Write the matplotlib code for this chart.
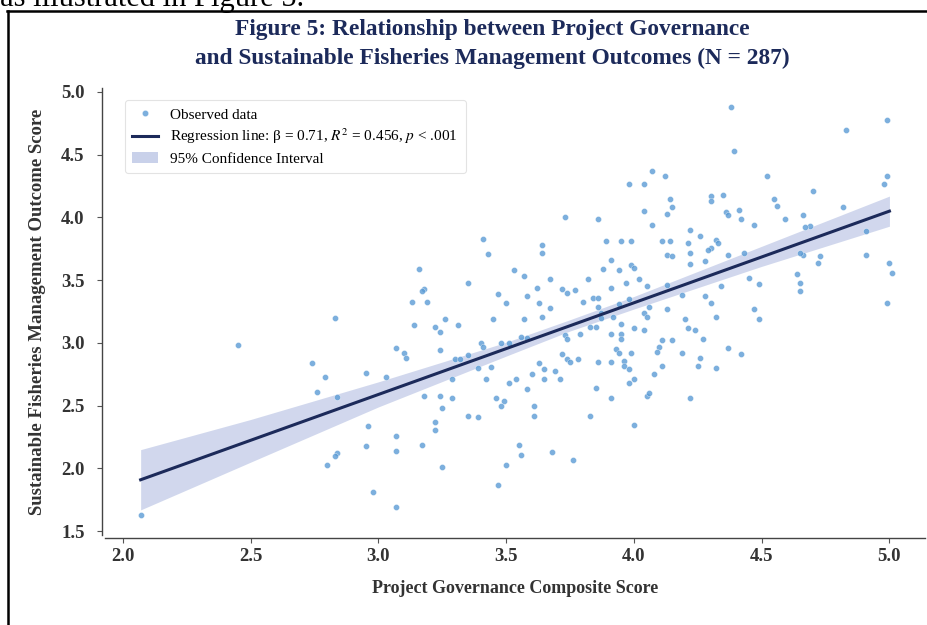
import matplotlib
matplotlib.use("Agg")
import matplotlib.pyplot as plt
from matplotlib.lines import Line2D
from matplotlib.patches import Patch

plt.rcParams['font.family'] = 'serif'
plt.rcParams['font.serif'] = ['Liberation Serif', 'DejaVu Serif']
plt.rcParams['mathtext.fontset'] = 'stix'

gov = [2.07, 2.45, 2.83, 2.74, 2.79, 2.76, 2.84, 2.95, 3.03, 3.07, 2.96, 3.07, 2.95, 3.07,
       2.84, 2.83, 2.80, 2.98, 3.07, 3.47,
       3.98, 4.04, 4.04, 3.73, 3.86, 3.41, 3.64, 3.64, 3.89, 3.95, 3.99, 3.43, 3.91, 3.16,
       3.53, 3.88, 3.94, 3.99, 4.00, 3.57, 3.67, 3.35, 3.82, 4.02, 3.97, 3.18, 3.17, 3.47,
       3.62, 3.58, 3.72, 3.74, 3.77, 3.91, 4.05, 3.13, 3.19, 3.50, 3.63, 3.67, 3.80, 3.84,
       3.86, 3.86, 3.94, 3.98, 3.45, 3.57, 3.64, 3.87, 3.92, 4.04, 4.05, 3.14, 3.22, 3.24,
       3.31, 3.26, 3.87, 3.83, 3.85, 3.95, 3.91, 3.95, 4.04, 4.00, 3.10, 3.11, 3.24, 3.40,
       3.41, 3.51, 3.48, 3.56, 3.58, 3.73, 3.74, 3.79, 3.95, 3.93, 3.94, 3.96, 3.99, 3.30,
       3.35, 3.32, 3.39, 3.44, 3.42, 3.51, 3.54, 3.60, 3.63, 3.65, 3.65, 3.69, 3.72, 3.74,
       3.75, 3.78, 3.71, 3.86, 3.91, 3.96, 3.98, 4.00, 3.98, 3.29, 3.18, 3.24, 3.29, 3.25,
       3.58, 3.46, 3.49, 3.48, 3.61, 3.61, 3.85, 3.91, 4.05, 4.06, 4.22, 3.35, 3.39, 3.83,
       4.00, 3.22, 3.22, 3.17, 3.55, 3.56, 3.68, 3.76, 3.25, 3.50,
       4.38, 4.99, 4.83, 4.39, 4.07, 4.12, 4.52, 4.99, 4.98, 4.70, 4.14, 4.15, 4.13, 4.30,
       4.30, 4.35, 4.55, 4.56, 4.82, 4.07, 4.36, 4.37, 4.41, 4.42, 4.47, 4.59, 4.66, 4.69,
       4.67, 4.22, 4.26, 4.11, 4.14, 4.21, 4.32, 4.33, 4.30, 4.29, 4.13, 4.15, 4.22, 4.37,
       4.43, 4.22, 4.28, 4.66, 4.65, 4.73, 4.72, 4.91, 4.91, 5.00, 5.01, 4.64, 4.65, 4.65,
       4.45, 4.49, 4.34, 4.13, 4.19, 4.28, 4.30, 4.06, 4.13, 4.32, 4.47, 4.49, 4.99, 4.20,
       4.21, 4.24, 4.27, 4.15, 4.11, 4.10, 4.09, 4.19, 4.37, 4.42, 4.26, 4.11, 4.25, 4.32,
       4.08]
outcome = [1.63, 2.98, 3.20, 2.84, 2.73, 2.61, 2.57, 2.76, 2.73, 2.96, 2.34, 2.26, 2.18, 2.14,
           2.12, 2.10, 2.03, 1.81, 1.69, 1.87,
           4.27, 4.27, 4.05, 4.00, 3.99, 3.83, 3.78, 3.72, 3.81, 3.81, 3.81, 3.71, 3.66, 3.59,
           3.58, 3.59, 3.58, 3.62, 3.60, 3.53, 3.51, 3.48, 3.51, 3.51, 3.48, 3.43, 3.41, 3.39,
           3.44, 3.37, 3.43, 3.40, 3.42, 3.44, 3.45, 3.33, 3.33, 3.32, 3.32, 3.28, 3.33, 3.36,
           3.36, 3.29, 3.31, 3.35, 3.19, 3.19, 3.21, 3.24, 3.21, 3.24, 3.21, 3.14, 3.13, 3.09,
           3.14, 3.19, 3.20, 3.13, 3.13, 3.15, 3.07, 3.07, 3.10, 3.12, 2.92, 2.88, 2.94, 3.00,
           2.97, 3.00, 3.00, 3.05, 3.04, 3.06, 3.03, 3.07, 3.03, 2.95, 2.92, 2.86, 2.92, 2.87,
           2.90, 2.87, 2.80, 2.81, 2.71, 2.68, 2.71, 2.75, 2.84, 2.79, 2.71, 2.78, 2.91, 2.87,
           2.85, 2.87, 2.71, 2.85, 2.85, 2.82, 2.79, 2.71, 2.68, 2.71, 2.58, 2.58, 2.56, 2.48,
           2.63, 2.56, 2.54, 2.50, 2.50, 2.42, 2.64, 2.56, 2.58, 2.60, 2.56, 2.42, 2.41, 2.42,
           2.35, 2.37, 2.31, 2.19, 2.19, 2.11, 2.13, 2.07, 2.01, 2.03,
           4.88, 4.78, 4.70, 4.53, 4.37, 4.33, 4.33, 4.33, 4.27, 4.21, 4.15, 4.08, 4.03, 4.17,
           4.13, 4.18, 4.15, 4.09, 4.08, 3.94, 4.04, 4.02, 4.06, 3.99, 3.94, 3.99, 4.02, 3.93,
           3.92, 3.90, 3.85, 3.81, 3.81, 3.80, 3.82, 3.80, 3.76, 3.74, 3.70, 3.69, 3.72, 3.70,
           3.72, 3.63, 3.65, 3.70, 3.72, 3.69, 3.64, 3.89, 3.70, 3.64, 3.56, 3.55, 3.48, 3.41,
           3.52, 3.47, 3.45, 3.46, 3.38, 3.37, 3.32, 3.29, 3.27, 3.21, 3.27, 3.19, 3.32, 3.19,
           3.12, 3.10, 3.03, 3.02, 3.02, 2.97, 2.93, 2.92, 2.96, 2.91, 2.88, 2.82, 2.82, 2.80,
           2.75]

# fitted line and 95% band
fit_x = [2.07, 5.00]
fit_y = [1.91, 4.05]
band_x = [2.07, 2.50, 3.00, 3.50, 3.75, 4.00, 4.50, 5.00]
band_lo = [1.67, 2.05, 2.49, 2.895, 3.095, 3.27, 3.61, 3.93]
band_hi = [2.15, 2.39, 2.69, 3.005, 3.185, 3.37, 3.77, 4.17]

navy = '#1c2a5a'
dot = '#5b9bd5'
band = '#c9d1ea'

fig = plt.figure(figsize=(9.28, 6.25), dpi=100)
ax = fig.add_axes([0.113, 0.144, 0.884, 0.715])

ax.fill_between(band_x, band_lo, band_hi, color=band, alpha=0.85, lw=0, zorder=1)
ax.scatter(gov, outcome, s=19, color=dot, alpha=0.8, edgecolors='white', linewidths=0.3, zorder=2)
ax.plot(fit_x, fit_y, color=navy, lw=2.2, zorder=3)

ax.set_xlim(1.93, 5.14)
ax.set_ylim(1.47, 5.03)
ax.set_xticks([2.0, 2.5, 3.0, 3.5, 4.0, 4.5, 5.0])
ax.set_yticks([1.5, 2.0, 2.5, 3.0, 3.5, 4.0, 4.5, 5.0])
for s in ['top', 'right']:
    ax.spines[s].set_visible(False)
for s in ['left', 'bottom']:
    ax.spines[s].set_position(('outward', 2))
    ax.spines[s].set_color('#444444')
    ax.spines[s].set_linewidth(1.0)
ax.tick_params(length=3.5, width=0.8, color='#555555', labelsize=13.5, labelcolor='#333333')
ax.tick_params(axis='x', pad=4)
ax.tick_params(axis='y', pad=9)
for lab in ax.get_xticklabels() + ax.get_yticklabels():
    lab.set_fontweight('bold')

ax.set_xlabel('Project Governance Composite Score', fontsize=13, fontweight='bold',
              color='#333333', labelpad=11)
ax.set_ylabel('Sustainable Fisheries Management Outcome Score', fontsize=13.5,
              fontweight='bold', color='#333333', labelpad=11)

handles = [
    Line2D([0], [0], marker='o', ls='none', markersize=4.5, color=dot, alpha=0.8,
           markeredgecolor='white', markeredgewidth=0.3),
    Line2D([0], [0], color=navy, lw=2.2),
    Patch(facecolor=band, edgecolor='none'),
]
labels = ['Observed data',
          r'Regression line: β = 0.71, $R^2$ = 0.456, $p$ < .001',
          '95% Confidence Interval']
leg = ax.legend(handles, labels, loc='upper left', fontsize=11, frameon=True,
                borderpad=0.5, labelspacing=0.35, handlelength=1.7,
                borderaxespad=0, bbox_to_anchor=(0.024, 0.973))
leg.get_frame().set_edgecolor('#dddddd')
leg.get_frame().set_linewidth(0.8)

fig.text(0.531, 0.952, 'Figure 5: Relationship between Project Governance',
         ha='center', va='center', fontsize=16.8, fontweight='bold', color=navy)
fig.text(0.531, 0.907, 'and Sustainable Fisheries Management Outcomes (N = 287)',
         ha='center', va='center', fontsize=16.8, fontweight='bold', color=navy)

# page context around the figure
fig.text(0.0, 0.990, 'as illustrated in Figure 5.', ha='left', va='baseline', fontsize=22,
         color='black')
fig.add_artist(Line2D([0.009, 0.009], [0.0, 0.983], color='black', lw=1.8,
                      transform=fig.transFigure))
fig.add_artist(Line2D([0.008, 1.0], [0.983, 0.983], color='black', lw=1.8,
                      transform=fig.transFigure))

fig.savefig('out.png', dpi=100)
